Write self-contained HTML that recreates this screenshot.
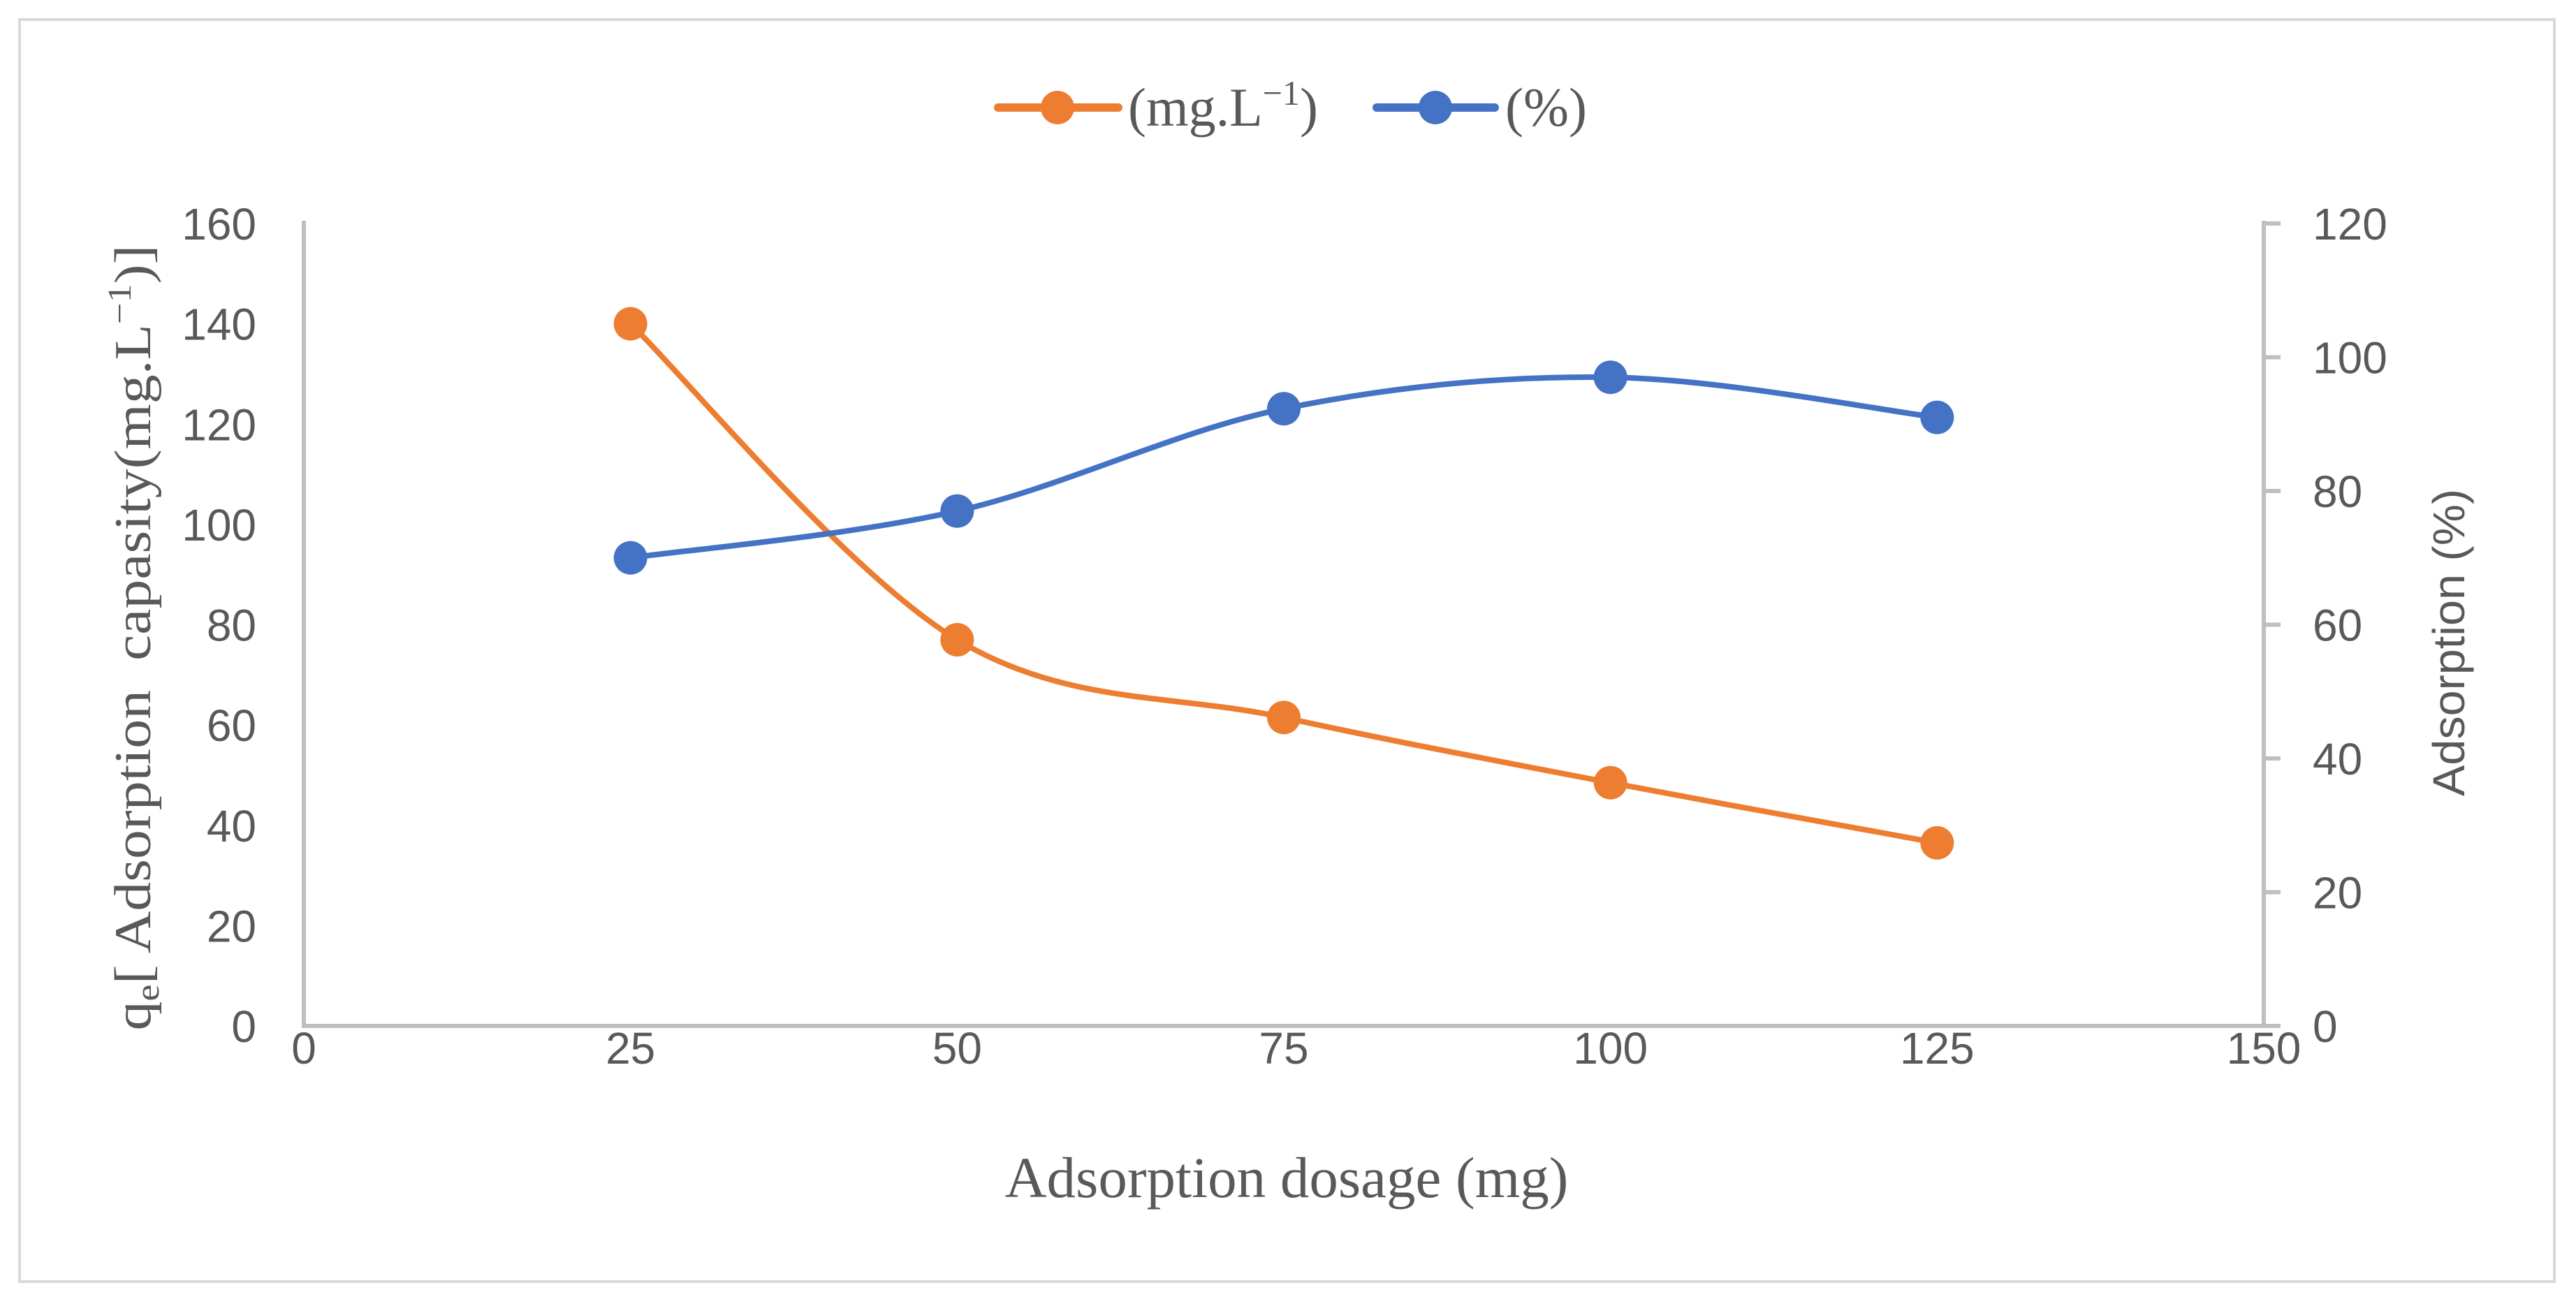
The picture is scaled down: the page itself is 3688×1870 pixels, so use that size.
<!DOCTYPE html>
<html><head><meta charset="utf-8"><style>
html,body{margin:0;padding:0;background:#fff}
svg{display:block}
</style></head><body>
<svg id="chart" width="3688" height="1870" viewBox="0 0 3688 1870" xmlns="http://www.w3.org/2000/svg">
<rect x="28" y="28" width="3629" height="1807" fill="#fff" stroke="#d9d9d9" stroke-width="4"/>
<g id="axes"></g>
<g id="series"></g>
<g>
  <g>
    <line x1="1429" y1="154" x2="1601" y2="154" stroke="#ed7d31" stroke-width="12" stroke-linecap="round"/>
    <circle cx="1514" cy="154" r="24" fill="#ed7d31"/>
    <text x="1615" y="180" font-family="Liberation Serif, serif" font-size="78" fill="#595959">(mg.L<tspan font-size="50" dy="-30">−1</tspan><tspan dy="30">)</tspan></text>
  </g>
  <g>
    <line x1="1971" y1="154" x2="2140" y2="154" stroke="#4472c4" stroke-width="12" stroke-linecap="round"/>
    <circle cx="2055" cy="154" r="24" fill="#4472c4"/>
    <text x="2155" y="180" font-family="Liberation Serif, serif" font-size="78" fill="#595959">(%)</text>
  </g>
</g>
<text transform="translate(215,913) rotate(-90)" text-anchor="middle" font-family="Liberation Serif, serif" font-size="74" fill="#595959" textLength="1125" lengthAdjust="spacingAndGlyphs">q<tspan font-size="48" dy="12">e</tspan><tspan dy="-12">[ Adsorption &#160;capasity(mg.L</tspan><tspan font-size="48" dy="-28">−1</tspan><tspan dy="28">)]</tspan></text>
<text transform="translate(3528,920) rotate(-90)" text-anchor="middle" font-family="Liberation Sans, sans-serif" font-size="64" fill="#595959" textLength="440" lengthAdjust="spacingAndGlyphs">Adsorption (%)</text>
<text x="1842" y="1714" text-anchor="middle" font-family="Liberation Serif, serif" font-size="83" fill="#595959">Adsorption dosage (mg)</text>
</svg>
<script>
const xTicks = [0, 25, 50, 75, 100, 125, 150];
const yLeftTicks = [0, 20, 40, 60, 80, 100, 120, 140, 160];
const yRightTicks = [0, 20, 40, 60, 80, 100, 120];
const dosage = [25, 50, 75, 100, 125];
const capacity = [140, 77, 61.5, 48.5, 36.5];
const adsorptionPct = [70, 77, 92.3, 97, 91];

const NS = 'http://www.w3.org/2000/svg';
const L = 435, R = 3241, B = 1469, T = 320;
const xs = v => L + (v - 0) / 150 * (R - L);
const yl = v => B - v / 160 * (B - T);
const yr = v => B - v / 120 * (B - T);
function mk(tag, attrs, parent, txt) {
  const e = document.createElementNS(NS, tag);
  for (const k in attrs) e.setAttribute(k, attrs[k]);
  if (txt !== undefined) e.textContent = txt;
  parent.appendChild(e);
  return e;
}
const axes = document.getElementById('axes');
const series = document.getElementById('series');
const tickFont = {'font-family': 'Liberation Sans, sans-serif', 'font-size': 64, fill: '#595959'};

let e = mk('line', {x1: L, y1: T - 4, x2: L, y2: B, stroke: '#bfbfbf', 'stroke-width': 6}, axes);


e = mk('line', {x1: L - 3, y1: B, x2: R + 24, y2: B, stroke: '#bfbfbf', 'stroke-width': 6}, axes);


e = mk('line', {x1: R, y1: T - 4, x2: R, y2: B, stroke: '#bfbfbf', 'stroke-width': 6}, axes);



xTicks.forEach(v => {
  const t = mk('text', Object.assign({x: xs(v), y: 1523, 'text-anchor': 'middle'}, tickFont), axes, String(v));
  
  
});
yLeftTicks.forEach(v => {
  const t = mk('text', Object.assign({x: 367, y: yl(v) + 23, 'text-anchor': 'end'}, tickFont), axes, String(v));
  
  
});
yRightTicks.forEach(v => {
  const tk = mk('line', {x1: R, y1: yr(v), x2: R + 24, y2: yr(v), stroke: '#bfbfbf', 'stroke-width': 6}, axes);
  
  
  const t = mk('text', Object.assign({x: 3311, y: yr(v) + 23, 'text-anchor': 'start'}, tickFont), axes, String(v));
  
  
});

function smoothPath(pts) {
  let d = 'M' + pts[0][0] + ',' + pts[0][1];
  for (let i = 0; i < pts.length - 1; i++) {
    const p0 = pts[i - 1] || pts[i], p1 = pts[i], p2 = pts[i + 1], p3 = pts[i + 2] || p2;
    const c1 = [p1[0] + (p2[0] - p0[0]) / 6, p1[1] + (p2[1] - p0[1]) / 6];
    const c2 = [p2[0] - (p3[0] - p1[0]) / 6, p2[1] - (p3[1] - p1[1]) / 6];
    d += ' C' + c1.join(',') + ' ' + c2.join(',') + ' ' + p2.join(',');
  }
  return d;
}
function drawSeries(vals, yf, color, name) {
  const pts = dosage.map((x, i) => [xs(x), yf(vals[i])]);
  const p = mk('path', {d: smoothPath(pts), fill: 'none', stroke: color, 'stroke-width': 8, 'stroke-linejoin': 'round'}, series);
  
  
  pts.forEach(pt => {
    const c = mk('circle', {cx: pt[0], cy: pt[1], r: 24, fill: color}, series);
    
    
  });
}
drawSeries(capacity, yl, '#ed7d31', 'capacity');
drawSeries(adsorptionPct, yr, '#4472c4', 'adsorption-percent');
</script>
</body></html>
